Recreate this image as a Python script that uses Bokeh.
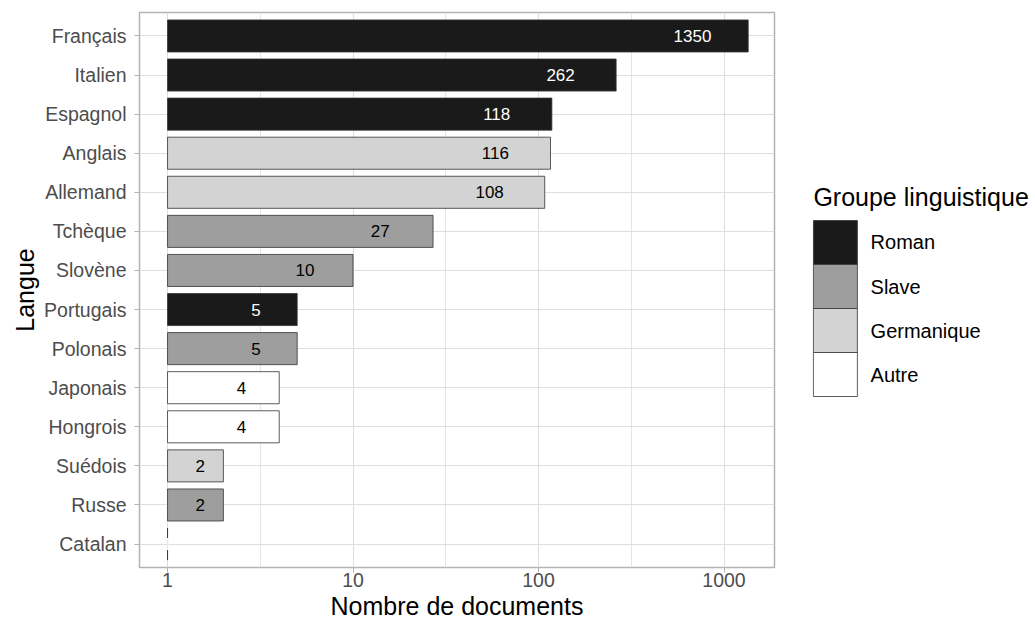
from bokeh.plotting import figure
from bokeh.layouts import row
from bokeh.models import (ColumnDataSource, FactorRange, Range1d, FixedTicker,
                          NumeralTickFormatter)
from bokeh.embed import file_html
from bokeh.resources import INLINE
from bokeh.core.properties import value

# ---------------- data ----------------
languages = ["Français", "Italien", "Espagnol", "Anglais", "Allemand", "Tchèque",
             "Slovène", "Portugais", "Polonais", "Japonais", "Hongrois", "Suédois",
             "Russe", "Catalan"]
counts = [1350, 262, 118, 116, 108, 27, 10, 5, 5, 4, 4, 2, 2, 1]
groups = ["Roman", "Roman", "Roman", "Germanique", "Germanique", "Slave", "Slave",
          "Roman", "Slave", "Autre", "Autre", "Germanique", "Slave", "Roman"]
group_order = ["Roman", "Slave", "Germanique", "Autre"]
group_colors = ["#1A1A1A", "#9E9E9E", "#D3D3D3", "#FFFFFF"]
label_colors = ["#FFFFFF", "#000000", "#000000", "#000000"]
x_ticks = [1, 10, 100, 1000]
x_minor = [3.1623, 31.623, 316.23]
legend_title = "Groupe linguistique"

FONT = "Liberation Sans"
H = 622

p = figure(width=776, height=H, output_backend="svg", toolbar_location=None,
           x_axis_type="log", x_range=Range1d(0.706, 1871),
           y_range=FactorRange(factors=languages[::-1], range_padding=0.1,
                               range_padding_units="absolute"),
           min_border_left=139, min_border_right=2, min_border_top=12,
           min_border_bottom=55)
p.background_fill_color = "white"
p.border_fill_color = "white"
p.outline_line_color = "#B3B3B3"
p.outline_line_width = 1.5

for g, c in zip(group_order, group_colors):
    idx = [i for i, gg in enumerate(groups) if gg == g]
    src = ColumnDataSource(dict(lang=[languages[i] for i in idx],
                                count=[counts[i] for i in idx]))
    p.hbar(y="lang", left=1, right="count", height=0.82, source=src,
           fill_color=c, line_color="#333333", line_width=0.8)

lsrc = ColumnDataSource(dict(
    x=[(v + 1) / 2 for v in counts],
    y=languages,
    text=[str(v) for v in counts],
    color=[label_colors[group_order.index(g)] for g in groups]))
p.text(x="x", y="y", text="text", text_color="color", source=lsrc,
       text_align="center", text_baseline="middle",
       text_font=value(FONT), text_font_size="17px")

# axes
p.xaxis.ticker = FixedTicker(ticks=x_ticks, minor_ticks=x_minor)
p.xaxis.formatter = NumeralTickFormatter(format="0")
for ax in (p.xaxis, p.yaxis):
    ax.axis_line_color = None
    ax.major_tick_line_color = "#B3B3B3"
    ax.major_tick_out = 5
    ax.major_tick_in = 0
    ax.minor_tick_line_color = None
    ax.major_label_text_font = FONT
    ax.major_label_text_font_size = "19.5px"
    ax.major_label_text_color = "#4D4D4D"
    ax.axis_label_text_font = FONT
    ax.axis_label_text_font_size = "25px"
    ax.axis_label_text_font_style = "normal"
    ax.axis_label_text_color = "#000000"
p.xaxis.axis_label = "Nombre de documents"
p.yaxis.axis_label = "Langue"
p.xaxis.major_label_standoff = 0
p.xaxis.axis_label_standoff = 2
p.yaxis.major_label_standoff = 8
p.yaxis.axis_label_standoff = 2

p.xgrid.grid_line_color = "#DEDEDE"
p.xgrid.minor_grid_line_color = "#DEDEDE"
p.xgrid.minor_grid_line_width = 0.8
p.ygrid.grid_line_color = "#DEDEDE"

# ---------------- legend panel ----------------
# same vertical borders as the main plot so the row keeps both frames aligned
lp = figure(width=258, height=H, output_backend="svg", toolbar_location=None,
            x_range=Range1d(-0.02, 5.025), y_range=Range1d(-4.386, 8.227),
            x_axis_location=None, y_axis_location=None,
            min_border_left=36, min_border_right=0, min_border_top=12,
            min_border_bottom=55)
lp.grid.visible = False
lp.outline_line_color = None
lp.background_fill_color = "white"
lp.border_fill_color = "white"

n = len(group_order)
ksrc = ColumnDataSource(dict(group=group_order, color=group_colors,
                             pos=[n - 1 - i for i in range(n)]))
lp.hbar(y="pos", left=0, right=1, height=1, source=ksrc,
        fill_color="color", line_color="#333333", line_width=0.8)
lp.text(x=1.3, y="pos", text="group", source=ksrc,
        text_align="left", text_baseline="middle", text_color="#000000",
        text_font=value(FONT), text_font_size="20px")
lp.text(x=[0], y=[n - 1 + 1.045], text=[legend_title],
        text_align="left", text_baseline="middle", text_color="#000000",
        text_font=value(FONT), text_font_size="25px")

layout = row(p, lp, spacing=0)
open("out.html", "w").write(file_html(layout, INLINE))
